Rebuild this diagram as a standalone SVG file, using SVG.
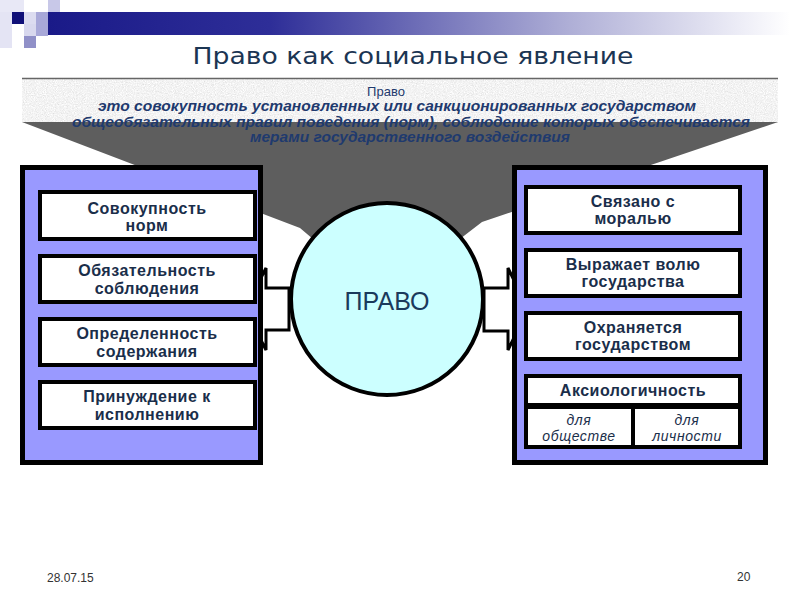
<svg xmlns="http://www.w3.org/2000/svg" width="800" height="600" viewBox="0 0 800 600">
<defs>
<linearGradient id="bar" x1="0" x2="1" y1="0" y2="0">
<stop offset="0" stop-color="#1a1a88"/>
<stop offset="0.3" stop-color="#2e2e98"/>
<stop offset="0.7" stop-color="#aeaed6"/>
<stop offset="0.93" stop-color="#ececf6"/>
<stop offset="1" stop-color="#ffffff"/>
</linearGradient>
<filter id="grain" x="0" y="0" width="1" height="1">
<feTurbulence type="fractalNoise" baseFrequency="0.9" numOctaves="3" seed="7"/>
<feColorMatrix type="matrix" values="0.33 0.33 0.33 0 0 0.33 0.33 0.33 0 0 0.33 0.33 0.33 0 0 0 0 0 0 1"/>
<feComponentTransfer>
<feFuncR type="linear" slope="0.7" intercept="0.55"/>
<feFuncG type="linear" slope="0.7" intercept="0.55"/>
<feFuncB type="linear" slope="0.7" intercept="0.55"/>
</feComponentTransfer>
<feComposite in2="SourceGraphic" operator="in"/>
</filter>
<style>
.panel{fill:#9999ff;stroke:#000;stroke-width:5}
.box{fill:#fff;stroke:#000;stroke-width:4}
.bt{font-family:"Liberation Sans",Arial,sans-serif;font-weight:bold;font-size:16px;letter-spacing:0.5px;fill:#1a2e4a;text-anchor:middle}
.it{font-family:"Liberation Sans",Arial,sans-serif;font-style:italic;font-size:14px;letter-spacing:0.6px;fill:#1a2e4a;text-anchor:middle}
.def{font-family:"Liberation Sans",Arial,sans-serif;font-style:italic;font-weight:bold;font-size:14px;fill:#1f3a6e;text-anchor:middle}
.arrow{fill:#fff;stroke:#000;stroke-width:3}
.foot{font-family:"Liberation Sans",Arial,sans-serif;font-size:12px;fill:#333}
</style>
</defs>
<rect width="800" height="600" fill="#fff"/>
<g id="decor">
<rect x="0" y="0" width="24" height="12" fill="#e8e8f6"/>
<rect x="0" y="12" width="12" height="36" fill="#e4e4f4"/>
<rect x="48" y="0" width="12" height="12" fill="#c8c8e8"/>
<rect x="12" y="12" width="12" height="12" fill="#101078"/>
<rect x="24" y="12" width="12" height="12" fill="#dcdcf0"/>
<rect x="36" y="12" width="12" height="24" fill="#a8a8d8"/>
<rect x="24" y="24" width="12" height="12" fill="#d8d8ee"/>
<rect x="24" y="36" width="12" height="12" fill="#9090c8"/>
<rect x="48" y="12" width="742" height="23" fill="url(#bar)"/>
</g>
<text x="413" y="64" font-family="DejaVu Sans,Verdana,sans-serif" font-size="23" fill="#1b3553" text-anchor="middle" textLength="441" lengthAdjust="spacingAndGlyphs">Право как социальное явление</text>
<g id="header">
<rect x="22" y="79" width="756" height="44" fill="#ddd" filter="url(#grain)"/>
<line x1="22" y1="78.5" x2="778" y2="78.5" stroke="#666" stroke-width="1.5"/>
<polygon points="22,122 778,122 482,222 430,262 340,262 300,228" fill="#5e5e5e"/>
<text x="386" y="96" font-family="Liberation Sans,Arial,sans-serif" font-size="13" fill="#1f3a6e" text-anchor="middle">Право</text>
<text class="def" x="397" y="111" textLength="598" lengthAdjust="spacingAndGlyphs">это совокупность установленных или санкционированных государством</text>
<text class="def" x="411" y="127" textLength="678" lengthAdjust="spacingAndGlyphs">общеобязательных правил поведения (норм), соблюдение которых обеспечивается</text>
<text class="def" x="410" y="142" textLength="320" lengthAdjust="spacingAndGlyphs">мерами государственного воздействия</text>
</g>
<g id="connectors">
<polygon class="arrow" points="245,309 266,268 266,288 289,288 289,330 266,330 266,350"/>
<polygon class="arrow" points="528,309 508,268 508,288 484,288 484,331 508,331 508,350"/>
</g>
<g id="center">
<circle cx="387" cy="299" r="96" fill="#ccffff" stroke="#000" stroke-width="4"/>
<text x="387" y="310" font-family="Liberation Sans,Arial,sans-serif" font-size="25" fill="#1a3a5c" text-anchor="middle">ПРАВО</text>
</g>
<g id="left-panel">
<rect class="panel" x="22.5" y="167.5" width="238" height="295"/>
<g id="l1"><rect class="box" x="40" y="192" width="215" height="47"/>
<text class="bt" x="147" y="214">Совокупность</text><text class="bt" x="147" y="231">норм</text></g>
<g id="l2"><rect class="box" x="40" y="256" width="215" height="46"/>
<text class="bt" x="147" y="276">Обязательность</text><text class="bt" x="147" y="294">соблюдения</text></g>
<g id="l3"><rect class="box" x="40" y="319" width="215" height="46"/>
<text class="bt" x="147" y="339">Определенность</text><text class="bt" x="147" y="357">содержания</text></g>
<g id="l4"><rect class="box" x="40" y="382" width="215" height="46"/>
<text class="bt" x="147" y="402">Принуждение к</text><text class="bt" x="147" y="420">исполнению</text></g>
</g>
<g id="right-panel">
<rect class="panel" x="514.5" y="167.5" width="251" height="295"/>
<g id="r1"><rect class="box" x="526" y="187" width="214" height="46"/>
<text class="bt" x="633" y="207">Связано с</text><text class="bt" x="633" y="224">моралью</text></g>
<g id="r2"><rect class="box" x="526" y="250" width="214" height="46"/>
<text class="bt" x="633" y="270">Выражает волю</text><text class="bt" x="633" y="287">государства</text></g>
<g id="r3"><rect class="box" x="526" y="313" width="214" height="46"/>
<text class="bt" x="633" y="333">Охраняется</text><text class="bt" x="633" y="350">государством</text></g>
<g id="r4"><rect class="box" x="526" y="376" width="214" height="29"/>
<text class="bt" x="633" y="396">Аксиологичность</text></g>
<g id="r5"><rect class="box" x="526" y="407" width="107" height="40"/>
<text class="it" x="579" y="425">для</text><text class="it" x="579" y="441">обществе</text></g>
<g id="r6"><rect class="box" x="633" y="407" width="107" height="40"/>
<text class="it" x="687" y="425">для</text><text class="it" x="687" y="441">личности</text></g>
</g>
<text class="foot" x="47" y="582">28.07.15</text>
<text class="foot" x="737" y="581">20</text>
</svg>
